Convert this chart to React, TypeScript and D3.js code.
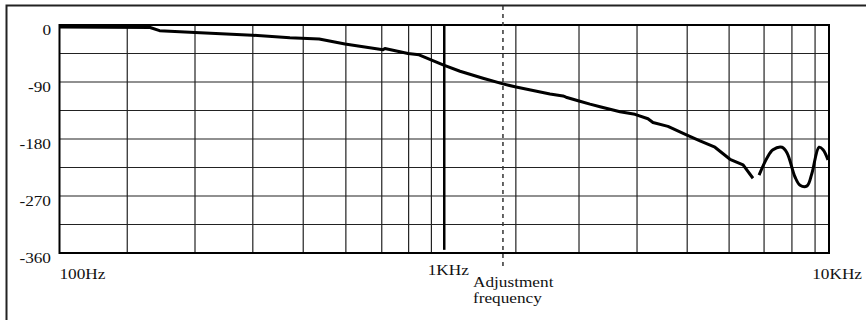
import React from "react";
import * as d3 from "d3";

const W = 866;
const H = 320;

// Phase response samples (frequency in Hz, phase in degrees)
const seg1Freq = [100, 172, 182, 225, 317, 397, 473, 552, 693, 701, 805, 860, 924, 993, 1099, 1261, 1421, 1537, 1883, 2035, 2073, 2240, 2392, 2540, 2863, 3131, 3385, 3487, 3815, 4275, 4620, 5053, 5530, 5980, 6345];
const seg1Phase = [-3, -4, -9, -12, -16, -20, -22, -30, -39, -37, -45, -47, -55, -63, -73, -84, -93, -98, -109, -112, -114, -120, -125, -129, -137, -141, -148, -154, -160, -174, -183, -193, -212, -221, -242];
const seg2Freq = [6580, 6900, 7150, 7550, 7780, 8160, 8410, 8770, 9030, 9420, 9650, 9940];
const seg2Phase = [-237, -210, -197, -193, -202, -240, -253, -254, -234, -193, -197, -213];

const gridFreqs = [150, 225, 318, 430, 555, 688, 808, 926, 1535, 2240, 3170, 4280, 5500, 6780, 8010, 9200];
const gridPhases = [-45, -90, -135, -180, -225, -270, -315];
const yTickValues = [0, -90, -180, -270, -360];
const xTickValues = [100, 1000, 10000];
const xTickLabels = ["100Hz", "1KHz", "10KHz"];
const adjustFreq = 1421;
const adjustLabel = ["Adjustment", "frequency"];

export default function App() {
  const x = d3.scaleLog().domain([100, 10000]).range([59.5, 829]);
  const y = d3.scaleLinear().domain([0, -360]).range([25, 253]);

  const s1 = seg1Freq.map((f, i) => [f, seg1Phase[i]] as [number, number]);
  const s2 = seg2Freq.map((f, i) => [f, seg2Phase[i]] as [number, number]);
  const line1 = d3.line<[number, number]>().x((d) => x(d[0])).y((d) => y(d[1]));
  const line2 = d3
    .line<[number, number]>()
    .x((d) => x(d[0]))
    .y((d) => y(d[1]))
    .curve(d3.curveCatmullRom.alpha(0.5));

  const font = "'Liberation Serif', 'Times New Roman', serif";
  const fs = 15;
  const sx = 1.15;
  const txt = (
    key: string,
    tx: number,
    ty: number,
    s: string,
    anchor: "start" | "middle" | "end" = "start"
  ) => (
    <text
      key={key}
      transform={`translate(${tx},${ty}) scale(${sx},1)`}
      textAnchor={anchor}
      fontFamily={font}
      fontSize={fs}
      fill="#111"
    >
      {s}
    </text>
  );

  const xLabelAnchors: ("start" | "middle" | "end")[] = ["start", "middle", "end"];
  const xLabelDx = [0, 4, 33];
  const xLabelDy = [279, 275, 279];

  return (
    <svg
      width={W}
      height={H}
      style={{ position: "absolute", left: 0, top: 0, background: "#fff" }}
    >
      <rect x={0} y={0} width={W} height={H} fill="#fff" />
      {/* outer frame */}
      <rect x={6.5} y={5.5} width={W + 20} height={H + 20} fill="none" stroke="#222" strokeWidth={2} />

      {/* grid */}
      {gridPhases.map((p) => (
        <line key={"h" + p} x1={x(100)} x2={x(10000)} y1={y(p)} y2={y(p)} stroke="#222" strokeWidth={1.2} />
      ))}
      {gridFreqs.map((f) => (
        <line key={"v" + f} x1={x(f)} x2={x(f)} y1={y(0)} y2={y(-360)} stroke="#222" strokeWidth={1.2} />
      ))}
      {/* 1KHz marker */}
      <line x1={x(1000)} x2={x(1000)} y1={y(0)} y2={y(-355)} stroke="#000" strokeWidth={2.5} />

      {/* plot border */}
      <rect x={x(100)} y={y(0)} width={x(10000) - x(100)} height={y(-360) - y(0)} fill="none" stroke="#000" strokeWidth={2} />

      {/* adjustment frequency dashed line */}
      <line x1={x(adjustFreq)} x2={x(adjustFreq)} y1={6} y2={268} stroke="#333" strokeWidth={1.5} strokeDasharray="4,4" />

      {/* curve */}
      <path d={line1(s1) || ""} fill="none" stroke="#000" strokeWidth={3} strokeLinejoin="round" />
      <path d={line2(s2) || ""} fill="none" stroke="#000" strokeWidth={3} strokeLinejoin="round" />

      {/* y labels */}
      {yTickValues.map((v) => txt("y" + v, 51, y(v) + 10, String(v), "end"))}
      {/* x labels */}
      {xTickValues.map((f, i) => txt("x" + f, x(f) + xLabelDx[i], xLabelDy[i], xTickLabels[i], xLabelAnchors[i]))}
      {adjustLabel.map((s, i) => txt("a" + i, x(adjustFreq) - 30, 287 + i * 16, s, "start"))}
    </svg>
  );
}
